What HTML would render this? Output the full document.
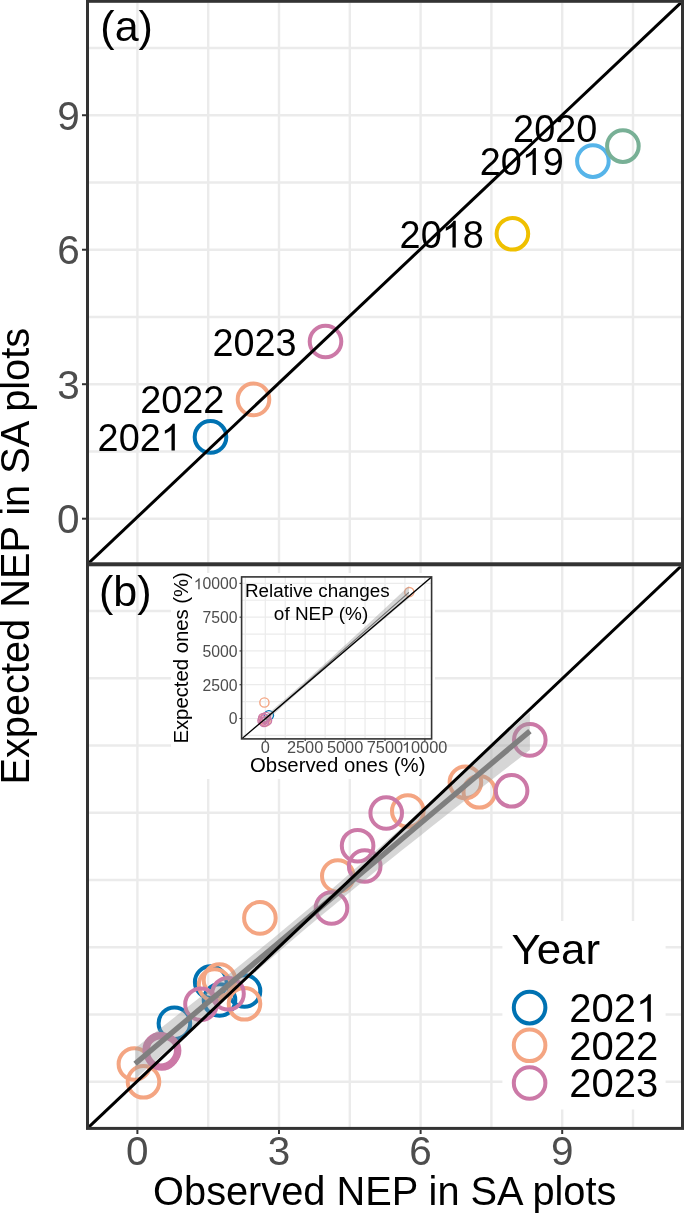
<!DOCTYPE html>
<html><head><meta charset="utf-8"><style>
html,body{margin:0;padding:0;background:#fff;width:685px;height:1213px;overflow:hidden}
svg{display:block;will-change:transform}
text{font-family:"Liberation Sans",sans-serif}
</style></head><body>
<svg width="685" height="1213" viewBox="0 0 685 1213" font-family="Liberation Sans, sans-serif">
<rect width="685" height="1213" fill="#fff"/>
<clipPath id="ca"><rect x="89" y="2.6" width="592" height="560.1999999999999"/></clipPath>
<clipPath id="cb"><rect x="89" y="566.2" width="592" height="560.7"/></clipPath>
<g clip-path="url(#ca)">
<line x1="137.40" y1="2.6" x2="137.40" y2="562.8" stroke="#ebebeb" stroke-width="2.4"/>
<line x1="208.20" y1="2.6" x2="208.20" y2="562.8" stroke="#ebebeb" stroke-width="2.4"/>
<line x1="279.00" y1="2.6" x2="279.00" y2="562.8" stroke="#ebebeb" stroke-width="2.4"/>
<line x1="349.80" y1="2.6" x2="349.80" y2="562.8" stroke="#ebebeb" stroke-width="2.4"/>
<line x1="420.60" y1="2.6" x2="420.60" y2="562.8" stroke="#ebebeb" stroke-width="2.4"/>
<line x1="491.40" y1="2.6" x2="491.40" y2="562.8" stroke="#ebebeb" stroke-width="2.4"/>
<line x1="562.20" y1="2.6" x2="562.20" y2="562.8" stroke="#ebebeb" stroke-width="2.4"/>
<line x1="633.00" y1="2.6" x2="633.00" y2="562.8" stroke="#ebebeb" stroke-width="2.4"/>
<line x1="89" y1="518.70" x2="681" y2="518.70" stroke="#ebebeb" stroke-width="2.4"/>
<line x1="89" y1="451.46" x2="681" y2="451.46" stroke="#ebebeb" stroke-width="2.4"/>
<line x1="89" y1="384.21" x2="681" y2="384.21" stroke="#ebebeb" stroke-width="2.4"/>
<line x1="89" y1="316.97" x2="681" y2="316.97" stroke="#ebebeb" stroke-width="2.4"/>
<line x1="89" y1="249.72" x2="681" y2="249.72" stroke="#ebebeb" stroke-width="2.4"/>
<line x1="89" y1="182.48" x2="681" y2="182.48" stroke="#ebebeb" stroke-width="2.4"/>
<line x1="89" y1="115.23" x2="681" y2="115.23" stroke="#ebebeb" stroke-width="2.4"/>
<line x1="89" y1="47.99" x2="681" y2="47.99" stroke="#ebebeb" stroke-width="2.4"/>
<circle cx="512.4" cy="233.8" r="15.8" fill="none" stroke="#EFC000" stroke-width="4.0" />
<circle cx="592.9" cy="161.1" r="15.8" fill="none" stroke="#56B4E9" stroke-width="4.0" />
<circle cx="622.9" cy="146.1" r="15.8" fill="none" stroke="#78B096" stroke-width="4.0" />
<circle cx="210.5" cy="436.9" r="15.8" fill="none" stroke="#0072B2" stroke-width="4.0" />
<circle cx="253.5" cy="399.4" r="15.8" fill="none" stroke="#F4A582" stroke-width="4.0" />
<circle cx="325.5" cy="341.5" r="15.8" fill="none" stroke="#CC79A7" stroke-width="4.0" />
<text transform="translate(513.11,142.20) scale(0.970,1)" font-size="39.0" fill="#000">2020</text>
<text transform="translate(479.71,174.90) scale(0.970,1)" font-size="39.0" fill="#000">20 9</text>
<path transform="translate(521.79,174.90) scale(0.01847,-0.01904)" d="M763 0H583V1098Q518 1038 412.5 979T223 890V1057Q374 1125 487 1221T647 1409H763Z" fill="#000"/>
<text transform="translate(399.61,247.60) scale(0.970,1)" font-size="39.0" fill="#000">20 8</text>
<path transform="translate(441.69,247.60) scale(0.01847,-0.01904)" d="M763 0H583V1098Q518 1038 412.5 979T223 890V1057Q374 1125 487 1221T647 1409H763Z" fill="#000"/>
<text transform="translate(212.41,355.60) scale(0.970,1)" font-size="39.0" fill="#000">2023</text>
<text transform="translate(140.21,413.40) scale(0.970,1)" font-size="39.0" fill="#000">2022</text>
<text transform="translate(97.61,450.60) scale(0.970,1)" font-size="39.0" fill="#000">202 </text>
<path transform="translate(160.73,450.60) scale(0.01847,-0.01904)" d="M763 0H583V1098Q518 1038 412.5 979T223 890V1057Q374 1125 487 1221T647 1409H763Z" fill="#000"/>
<text transform="translate(100.31,40.90) scale(1.000,1)" font-size="43" fill="#000">(a)</text>
<line x1="89" y1="562.8" x2="681" y2="2.6" stroke="#000" stroke-width="3.0"/>
</g>
<rect x="87.5" y="1.3" width="595" height="562.5" fill="none" stroke="#333333" stroke-width="3"/>
<g clip-path="url(#cb)">
<line x1="137.40" y1="566.2" x2="137.40" y2="1126.9" stroke="#ebebeb" stroke-width="2.4"/>
<line x1="208.20" y1="566.2" x2="208.20" y2="1126.9" stroke="#ebebeb" stroke-width="2.4"/>
<line x1="279.00" y1="566.2" x2="279.00" y2="1126.9" stroke="#ebebeb" stroke-width="2.4"/>
<line x1="349.80" y1="566.2" x2="349.80" y2="1126.9" stroke="#ebebeb" stroke-width="2.4"/>
<line x1="420.60" y1="566.2" x2="420.60" y2="1126.9" stroke="#ebebeb" stroke-width="2.4"/>
<line x1="491.40" y1="566.2" x2="491.40" y2="1126.9" stroke="#ebebeb" stroke-width="2.4"/>
<line x1="562.20" y1="566.2" x2="562.20" y2="1126.9" stroke="#ebebeb" stroke-width="2.4"/>
<line x1="633.00" y1="566.2" x2="633.00" y2="1126.9" stroke="#ebebeb" stroke-width="2.4"/>
<line x1="89" y1="1081.70" x2="681" y2="1081.70" stroke="#ebebeb" stroke-width="2.4"/>
<line x1="89" y1="1014.46" x2="681" y2="1014.46" stroke="#ebebeb" stroke-width="2.4"/>
<line x1="89" y1="947.21" x2="681" y2="947.21" stroke="#ebebeb" stroke-width="2.4"/>
<line x1="89" y1="879.97" x2="681" y2="879.97" stroke="#ebebeb" stroke-width="2.4"/>
<line x1="89" y1="812.72" x2="681" y2="812.72" stroke="#ebebeb" stroke-width="2.4"/>
<line x1="89" y1="745.48" x2="681" y2="745.48" stroke="#ebebeb" stroke-width="2.4"/>
<line x1="89" y1="678.23" x2="681" y2="678.23" stroke="#ebebeb" stroke-width="2.4"/>
<line x1="89" y1="610.99" x2="681" y2="610.99" stroke="#ebebeb" stroke-width="2.4"/>
<circle cx="210.7" cy="982.1" r="15.8" fill="none" stroke="#0072B2" stroke-width="4.0" />
<circle cx="244.5" cy="991" r="15.8" fill="none" stroke="#0072B2" stroke-width="4.0" />
<circle cx="219.5" cy="1000" r="15.8" fill="none" stroke="#0072B2" stroke-width="4.0" />
<circle cx="174.4" cy="1023.3" r="15.8" fill="none" stroke="#0072B2" stroke-width="4.0" />
<circle cx="465.4" cy="782.3" r="15.8" fill="none" stroke="#F4A582" stroke-width="4.0" />
<circle cx="479.3" cy="791.8" r="15.8" fill="none" stroke="#F4A582" stroke-width="4.0" />
<circle cx="407.8" cy="811" r="15.8" fill="none" stroke="#F4A582" stroke-width="4.0" />
<circle cx="337.8" cy="876" r="15.8" fill="none" stroke="#F4A582" stroke-width="4.0" />
<circle cx="259.9" cy="917.9" r="15.8" fill="none" stroke="#F4A582" stroke-width="4.0" />
<circle cx="214.6" cy="985" r="15.8" fill="none" stroke="#F4A582" stroke-width="4.0" />
<circle cx="219.5" cy="980" r="15.8" fill="none" stroke="#F4A582" stroke-width="4.0" />
<circle cx="244.5" cy="1003.8" r="15.8" fill="none" stroke="#F4A582" stroke-width="4.0" />
<circle cx="134.4" cy="1064" r="15.8" fill="none" stroke="#F4A582" stroke-width="4.0" />
<circle cx="143.5" cy="1081.8" r="15.8" fill="none" stroke="#F4A582" stroke-width="4.0" />
<circle cx="529.8" cy="739.9" r="15.8" fill="none" stroke="#CC79A7" stroke-width="4.0" />
<circle cx="511.6" cy="790.8" r="15.8" fill="none" stroke="#CC79A7" stroke-width="4.0" />
<circle cx="386.2" cy="813" r="15.8" fill="none" stroke="#CC79A7" stroke-width="4.0" />
<circle cx="357.6" cy="845.7" r="15.8" fill="none" stroke="#CC79A7" stroke-width="4.0" />
<circle cx="364.7" cy="866" r="15.8" fill="none" stroke="#CC79A7" stroke-width="4.0" />
<circle cx="331.5" cy="908" r="15.8" fill="none" stroke="#CC79A7" stroke-width="4.0" />
<circle cx="228" cy="993.7" r="15.8" fill="none" stroke="#CC79A7" stroke-width="4.0" />
<circle cx="201" cy="1004.2" r="15.8" fill="none" stroke="#CC79A7" stroke-width="4.0" />
<circle cx="160.2" cy="1049.8" r="15.8" fill="none" stroke="#CC79A7" stroke-width="4.0" />
<circle cx="163.6" cy="1050.6" r="15.8" fill="none" stroke="#CC79A7" stroke-width="4.0" />
<circle cx="161.8" cy="1053.0" r="15.8" fill="none" stroke="#CC79A7" stroke-width="4.0" />
<polygon points="135.1,1048.2 145.0,1040.5 154.8,1032.8 164.7,1025.0 174.6,1017.3 184.4,1009.5 194.3,1001.7 204.2,993.9 214.1,986.0 223.9,978.1 233.8,970.2 243.7,962.3 253.5,954.3 263.4,946.3 273.3,938.2 283.1,930.0 293.0,921.8 302.9,913.5 312.8,905.2 322.6,896.8 332.5,888.4 342.4,879.9 352.2,871.3 362.1,862.7 372.0,854.1 381.8,845.4 391.7,836.6 401.6,827.9 411.5,819.1 421.3,810.2 431.2,801.4 441.1,792.5 450.9,783.7 460.8,774.8 470.7,765.9 480.5,756.9 490.4,748.0 500.3,739.1 510.2,730.1 520.0,721.2 529.9,712.2 529.9,750.0 520.0,757.7 510.2,765.3 500.3,773.0 490.4,780.7 480.5,788.4 470.7,796.1 460.8,803.8 450.9,811.6 441.1,819.3 431.2,827.1 421.3,834.9 411.5,842.7 401.6,850.5 391.7,858.4 381.8,866.3 372.0,874.2 362.1,882.2 352.2,890.2 342.4,898.3 332.5,906.4 322.6,914.6 312.8,922.8 302.9,931.1 293.0,939.5 283.1,947.9 273.3,956.4 263.4,965.0 253.5,973.6 243.7,982.2 233.8,990.9 223.9,999.6 214.1,1008.3 204.2,1017.1 194.3,1025.9 184.4,1034.8 174.6,1043.6 164.7,1052.5 154.8,1061.4 145.0,1070.3 135.1,1079.2" fill="#999999" fill-opacity="0.4"/>
<line x1="135.1" y1="1063.7" x2="529.9" y2="731.1" stroke="#7f7f7f" stroke-width="5.4"/>
<line x1="89" y1="1126.9" x2="681" y2="566.2" stroke="#000" stroke-width="3.0"/>
<text transform="translate(98.91,606.30) scale(1.000,1)" font-size="43" fill="#000">(b)</text>
</g>
<rect x="87.5" y="564.8" width="595" height="563.6" fill="none" stroke="#333333" stroke-width="3"/>
<rect x="171" y="573" width="264" height="206" fill="#fff"/>
<clipPath id="ci"><rect x="241.6" y="576.9" width="190.00000000000003" height="162.0"/></clipPath>
<g clip-path="url(#ci)">
<line x1="245.35" y1="576.9" x2="245.35" y2="738.9" stroke="#ebebeb" stroke-width="1.2"/>
<line x1="265.30" y1="576.9" x2="265.30" y2="738.9" stroke="#ebebeb" stroke-width="1.2"/>
<line x1="285.25" y1="576.9" x2="285.25" y2="738.9" stroke="#ebebeb" stroke-width="1.2"/>
<line x1="305.20" y1="576.9" x2="305.20" y2="738.9" stroke="#ebebeb" stroke-width="1.2"/>
<line x1="325.15" y1="576.9" x2="325.15" y2="738.9" stroke="#ebebeb" stroke-width="1.2"/>
<line x1="345.10" y1="576.9" x2="345.10" y2="738.9" stroke="#ebebeb" stroke-width="1.2"/>
<line x1="365.05" y1="576.9" x2="365.05" y2="738.9" stroke="#ebebeb" stroke-width="1.2"/>
<line x1="385.00" y1="576.9" x2="385.00" y2="738.9" stroke="#ebebeb" stroke-width="1.2"/>
<line x1="404.95" y1="576.9" x2="404.95" y2="738.9" stroke="#ebebeb" stroke-width="1.2"/>
<line x1="424.90" y1="576.9" x2="424.90" y2="738.9" stroke="#ebebeb" stroke-width="1.2"/>
<line x1="241.6" y1="735.39" x2="431.6" y2="735.39" stroke="#ebebeb" stroke-width="1.2"/>
<line x1="241.6" y1="718.50" x2="431.6" y2="718.50" stroke="#ebebeb" stroke-width="1.2"/>
<line x1="241.6" y1="701.61" x2="431.6" y2="701.61" stroke="#ebebeb" stroke-width="1.2"/>
<line x1="241.6" y1="684.72" x2="431.6" y2="684.72" stroke="#ebebeb" stroke-width="1.2"/>
<line x1="241.6" y1="667.83" x2="431.6" y2="667.83" stroke="#ebebeb" stroke-width="1.2"/>
<line x1="241.6" y1="650.94" x2="431.6" y2="650.94" stroke="#ebebeb" stroke-width="1.2"/>
<line x1="241.6" y1="634.05" x2="431.6" y2="634.05" stroke="#ebebeb" stroke-width="1.2"/>
<line x1="241.6" y1="617.16" x2="431.6" y2="617.16" stroke="#ebebeb" stroke-width="1.2"/>
<line x1="241.6" y1="600.27" x2="431.6" y2="600.27" stroke="#ebebeb" stroke-width="1.2"/>
<line x1="241.6" y1="583.38" x2="431.6" y2="583.38" stroke="#ebebeb" stroke-width="1.2"/>
<circle cx="268.9" cy="715.2" r="4.6" fill="none" stroke="#0072B2" stroke-width="1.4" />
<circle cx="264.4" cy="702.5" r="4.6" fill="none" stroke="#F4A582" stroke-width="1.4" />
<circle cx="409.3" cy="592.1" r="4.6" fill="none" stroke="#F4A582" stroke-width="1.4" />
<circle cx="263.5" cy="718.5" r="4.6" fill="none" stroke="#F4A582" stroke-width="1.4" />
<circle cx="265.5" cy="721.5" r="4.6" fill="none" stroke="#F4A582" stroke-width="1.4" />
<circle cx="263.2" cy="718" r="4.6" fill="none" stroke="#CC79A7" stroke-width="1.4" />
<circle cx="266" cy="717" r="4.6" fill="none" stroke="#CC79A7" stroke-width="1.4" />
<circle cx="267" cy="720.5" r="4.6" fill="none" stroke="#CC79A7" stroke-width="1.4" />
<circle cx="264" cy="722" r="4.6" fill="none" stroke="#CC79A7" stroke-width="1.4" />
<circle cx="265" cy="719" r="4.6" fill="none" stroke="#CC79A7" stroke-width="1.4" />
<circle cx="262.5" cy="720.5" r="4.6" fill="none" stroke="#CC79A7" stroke-width="1.4" />
<polygon points="264.0,717.0 268.8,712.8 273.7,708.7 278.5,704.6 283.3,700.4 288.1,696.2 293.0,692.0 297.8,687.8 302.6,683.5 307.5,679.2 312.3,674.9 317.1,670.6 322.0,666.2 326.8,661.8 331.6,657.5 336.4,653.0 341.3,648.6 346.1,644.2 350.9,639.7 355.8,635.3 360.6,630.8 365.4,626.4 370.3,621.9 375.1,617.4 379.9,612.9 384.8,608.4 389.6,604.0 394.4,599.5 399.2,595.0 404.1,590.5 408.9,586.0 408.9,598.2 404.1,602.2 399.2,606.3 394.4,610.3 389.6,614.4 384.8,618.4 379.9,622.5 375.1,626.5 370.3,630.6 365.4,634.7 360.6,638.8 355.8,642.8 350.9,646.9 346.1,651.0 341.3,655.1 336.4,659.2 331.6,663.4 326.8,667.5 322.0,671.7 317.1,675.8 312.3,680.0 307.5,684.2 302.6,688.5 297.8,692.7 293.0,697.0 288.1,701.3 283.3,705.6 278.5,710.0 273.7,714.3 268.8,718.7 264.0,723.1" fill="#999999" fill-opacity="0.4"/>
<line x1="264.0" y1="720.2" x2="408.9" y2="592.4" stroke="#6e6e6e" stroke-width="1.1"/>
<line x1="241.6" y1="738.9" x2="431.6" y2="576.9" stroke="#000" stroke-width="1.3"/>
</g>
<rect x="241.6" y="576.9" width="190.00000000000003" height="162.0" fill="none" stroke="#333333" stroke-width="1.6"/>
<text transform="translate(244.94,596.70) scale(1.060,1)" font-size="17.8" fill="#000">Relative changes</text>
<text transform="translate(273.86,619.90) scale(1.065,1)" font-size="17.8" fill="#000">of NEP (%)</text>
<line x1="239.5" y1="718.50" x2="241.6" y2="718.50" stroke="#333333" stroke-width="1.1"/>
<text transform="translate(228.84,724.45) scale(0.985,1)" font-size="16.0" fill="#4d4d4d">0</text>
<line x1="265.30" y1="738.9" x2="265.30" y2="741" stroke="#333333" stroke-width="1.1"/>
<text transform="translate(260.75,752.80) scale(1.020,1)" font-size="16.0" fill="#4d4d4d">0</text>
<line x1="239.5" y1="684.72" x2="241.6" y2="684.72" stroke="#333333" stroke-width="1.1"/>
<text transform="translate(202.56,690.67) scale(0.985,1)" font-size="16.0" fill="#4d4d4d">2500</text>
<line x1="305.20" y1="738.9" x2="305.20" y2="741" stroke="#333333" stroke-width="1.1"/>
<text transform="translate(286.96,752.80) scale(1.020,1)" font-size="16.0" fill="#4d4d4d">2500</text>
<line x1="239.5" y1="650.94" x2="241.6" y2="650.94" stroke="#333333" stroke-width="1.1"/>
<text transform="translate(202.56,656.89) scale(0.985,1)" font-size="16.0" fill="#4d4d4d">5000</text>
<line x1="345.10" y1="738.9" x2="345.10" y2="741" stroke="#333333" stroke-width="1.1"/>
<text transform="translate(326.94,752.80) scale(1.020,1)" font-size="16.0" fill="#4d4d4d">5000</text>
<line x1="239.5" y1="617.16" x2="241.6" y2="617.16" stroke="#333333" stroke-width="1.1"/>
<text transform="translate(202.56,623.11) scale(0.985,1)" font-size="16.0" fill="#4d4d4d">7500</text>
<line x1="385.00" y1="738.9" x2="385.00" y2="741" stroke="#333333" stroke-width="1.1"/>
<text transform="translate(366.74,752.80) scale(1.020,1)" font-size="16.0" fill="#4d4d4d">7500</text>
<line x1="239.5" y1="583.38" x2="241.6" y2="583.38" stroke="#333333" stroke-width="1.1"/>
<text transform="translate(193.78,589.33) scale(0.985,1)" font-size="16.0" fill="#4d4d4d"> 0000</text>
<path transform="translate(193.78,589.33) scale(0.00770,-0.00781)" d="M763 0H583V1098Q518 1038 412.5 979T223 890V1057Q374 1125 487 1221T647 1409H763Z" fill="#4d4d4d"/>
<line x1="424.90" y1="738.9" x2="424.90" y2="741" stroke="#333333" stroke-width="1.1"/>
<text transform="translate(401.91,752.80) scale(1.020,1)" font-size="16.0" fill="#4d4d4d"> 0000</text>
<path transform="translate(401.91,752.80) scale(0.00797,-0.00781)" d="M763 0H583V1098Q518 1038 412.5 979T223 890V1057Q374 1125 487 1221T647 1409H763Z" fill="#4d4d4d"/>
<text transform="translate(249.95,772.40) scale(1.040,1)" font-size="19.6" fill="#000">Observed ones (%)</text>
<text transform="translate(187.80,743.57) rotate(-90) scale(1.036,1)" font-size="19.6" fill="#000">Expected ones (%)</text>
<rect x="502.4" y="921" width="163.2" height="188.5" fill="#fff"/>
<text transform="translate(511.41,963.70) scale(1.020,1)" font-size="43" fill="#000">Year</text>
<circle cx="529.6" cy="1007.6" r="15.8" fill="none" stroke="#0072B2" stroke-width="4.0" />
<text transform="translate(569.20,1021.80) scale(1.000,1)" font-size="40" fill="#000">202 </text>
<path transform="translate(635.94,1021.80) scale(0.01953,-0.01953)" d="M763 0H583V1098Q518 1038 412.5 979T223 890V1057Q374 1125 487 1221T647 1409H763Z" fill="#000"/>
<circle cx="529.6" cy="1045.3" r="15.8" fill="none" stroke="#F4A582" stroke-width="4.0" />
<text transform="translate(569.20,1059.50) scale(1.000,1)" font-size="40" fill="#000">2022</text>
<circle cx="529.6" cy="1083.0" r="15.8" fill="none" stroke="#CC79A7" stroke-width="4.0" />
<text transform="translate(569.20,1097.20) scale(1.000,1)" font-size="40" fill="#000">2023</text>
<line x1="82" y1="115.23" x2="86" y2="115.23" stroke="#333333" stroke-width="2"/>
<text transform="translate(57.26,129.70) scale(0.975,1)" font-size="41.5" fill="#4d4d4d">9</text>
<line x1="82" y1="249.72" x2="86" y2="249.72" stroke="#333333" stroke-width="2"/>
<text transform="translate(57.16,264.19) scale(0.975,1)" font-size="41.5" fill="#4d4d4d">6</text>
<line x1="82" y1="384.21" x2="86" y2="384.21" stroke="#333333" stroke-width="2"/>
<text transform="translate(57.16,398.68) scale(0.975,1)" font-size="41.5" fill="#4d4d4d">3</text>
<line x1="82" y1="518.70" x2="86" y2="518.70" stroke="#333333" stroke-width="2"/>
<text transform="translate(56.96,533.17) scale(0.975,1)" font-size="41.5" fill="#4d4d4d">0</text>
<line x1="137.40" y1="1130" x2="137.40" y2="1134" stroke="#333333" stroke-width="2"/>
<text transform="translate(126.12,1164.60) scale(0.975,1)" font-size="41.5" fill="#4d4d4d">0</text>
<line x1="279.00" y1="1130" x2="279.00" y2="1134" stroke="#333333" stroke-width="2"/>
<text transform="translate(267.87,1164.60) scale(0.975,1)" font-size="41.5" fill="#4d4d4d">3</text>
<line x1="420.60" y1="1130" x2="420.60" y2="1134" stroke="#333333" stroke-width="2"/>
<text transform="translate(409.22,1164.60) scale(0.975,1)" font-size="41.5" fill="#4d4d4d">6</text>
<line x1="562.20" y1="1130" x2="562.20" y2="1134" stroke="#333333" stroke-width="2"/>
<text transform="translate(550.92,1164.60) scale(0.975,1)" font-size="41.5" fill="#4d4d4d">9</text>
<text transform="translate(153.11,1204.60) scale(1.000,1)" font-size="39.75" fill="#000">Observed NEP in SA plots</text>
<text transform="translate(28.70,784.56) rotate(-90) scale(1.000,1)" font-size="39.75" fill="#000">Expected NEP in SA plots</text>
</svg>
</body></html>
